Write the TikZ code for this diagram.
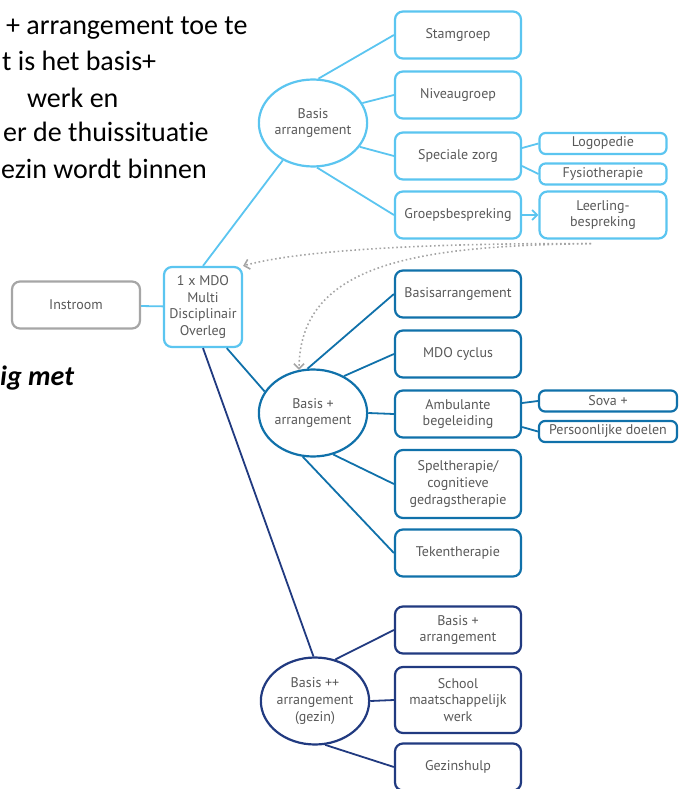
\documentclass[tikz,border=0pt]{standalone}
\usepackage{fontspec}
\setmainfont{PT Sans}
\newfontfamily\introfont[Ligatures=NoCommon]{Carlito}
\usetikzlibrary{shapes.geometric,arrows.meta}

\definecolor{lblue}{RGB}{91,197,240}
\definecolor{mblue}{RGB}{16,113,170}
\definecolor{dblue}{RGB}{33,58,128}
\definecolor{boxgray}{RGB}{166,166,166}
\definecolor{txtgray}{RGB}{89,89,89}
\definecolor{dotgray}{RGB}{165,165,165}

\newcommand{\boxfont}{\fontsize{14}{16.6}\selectfont}
\newcommand{\intro}{\introfont\fontsize{28}{34}\selectfont}

\tikzset{
  basebox/.style={rounded corners=8pt, line width=2.2pt, fill=white, align=center,
    text=txtgray, font=\boxfont, inner sep=2pt, minimum width=126pt, minimum height=47pt},
  lbox/.style={basebox, draw=lblue},
  mbox/.style={basebox, draw=mblue},
  dbox/.style={basebox, draw=dblue},
  gbox/.style={basebox, draw=boxgray, minimum width=128pt},
  lsmall/.style={lbox, rounded corners=6pt, minimum width=127pt, minimum height=21pt, inner sep=1pt},
  msmall/.style={mbox, rounded corners=6pt, minimum width=138pt, minimum height=21pt, inner sep=1pt},
  baseell/.style={ellipse, line width=2.2pt, fill=white, align=center, text=txtgray,
    font=\boxfont, inner sep=0pt, minimum width=107pt, minimum height=87pt},
  lell/.style={baseell, draw=lblue},
  mell/.style={baseell, draw=mblue},
  dell/.style={baseell, draw=dblue},
  lline/.style={draw=lblue, line width=1.8pt},
  mline/.style={draw=mblue, line width=1.8pt},
  dline/.style={draw=dblue, line width=1.8pt},
  dotarrow/.style={draw=dotgray, line width=1.6pt, dash pattern=on 1.6pt off 2.6pt,
    -{Straight Barb[length=5pt,width=10pt,line width=1.6pt]}}
}

\begin{document}
\begin{tikzpicture}[x=1pt,y=-1pt]
  \useasboundingbox (0,0) rectangle (683,789);

  % Text at the left
  \node[anchor=base west, inner sep=0pt, font=\intro] (r1) at (6,35) {+ arrangement toe te};
  \node[anchor=base west, inner sep=0pt, font=\intro] (r2) at (2,71) {t is het basis+};
  \node[anchor=base west, inner sep=0pt, font=\intro] (r3) at (27,107) {werk en};
  \node[anchor=base west, inner sep=0pt, font=\intro] (r4) at (3,142) {er de thuissituatie};
  \node[anchor=base west, inner sep=0pt, font=\intro] (r5) at (1,178) {ezin wordt binnen};
  \node[anchor=base west, inner sep=0pt, font=\intro\bfseries\itshape] (r6) at (0,385) {ig met};

  % Start
  \node[gbox] (instroom) at (76,305) {Instroom};
  \node[lbox, minimum width=78pt, minimum height=80pt] (mdo) at (203,307) {1 x MDO\\Multi\\Disciplinair\\Overleg};

  % Basis arrangement
  \node[lell] (ba) at (313,123) {Basis\\arrangement};
  \node[lbox] (stam) at (458,35) {Stamgroep};
  \node[lbox] (niveau) at (458,95) {Niveaugroep};
  \node[lbox] (zorg) at (458,156) {Speciale zorg};
  \node[lbox] (groeps) at (458,215) {Groepsbespreking};
  \node[lsmall] (logo) at (603,143.5) {Logopedie};
  \node[lsmall] (fysio) at (603,174) {Fysiotherapie};
  \node[lbox, minimum width=127pt] (leerling) at (603,215) {Leerling-\\bespreking};

  % Basis + arrangement
  \node[mell] (bp) at (313,413) {Basis +\\arrangement};
  \node[mbox] (basisarr) at (458,294) {Basisarrangement};
  \node[mbox] (cyclus) at (458,354) {MDO cyclus};
  \node[mbox] (amb) at (458,414) {Ambulante\\begeleiding};
  \node[mbox, minimum height=68pt] (spel) at (458,484) {Speltherapie/\\cognitieve\\gedragstherapie};
  \node[mbox] (teken) at (458,553) {Tekentherapie};
  \node[msmall] (sova) at (608,401) {Sova +};
  \node[msmall] (doelen) at (608,431.5) {Persoonlijke doelen};

  % Basis ++ arrangement
  \node[dell] (bpp) at (315,701) {Basis ++\\arrangement\\(gezin)};
  \node[dbox] (bparr) at (458,630) {Basis +\\arrangement};
  \node[dbox, minimum height=66pt] (school) at (458,700) {School\\maatschappelijk\\werk};
  \node[dbox] (gezin) at (458,767) {Gezinshulp};

  % Connectors
  \draw[lline] (instroom) -- (mdo);
  \draw[lline] (mdo.north) -- (ba.231);
  \draw[mline] (mdo.-60) -- (bp.156);
  \draw[dline] (mdo.south) -- (bpp.92);

  \draw[lline] (ba.83) -- (stam.west);
  \draw[lline] (ba.22) -- (niveau.west);
  \draw[lline] (ba.-27) -- (zorg.west);
  \draw[lline] (ba.-85) -- (groeps.west);
  \draw[lline] ([yshift=8pt]zorg.east) -- (logo.west);
  \draw[lline] ([yshift=-10pt]zorg.east) -- (fysio.west);
  \draw[lline, -{Straight Barb[length=5pt,width=10pt,line width=1.8pt]}] (groeps.east) -- (leerling.west);

  \draw[mline] (bp.97) -- (basisarr.west);
  \draw[mline] (bp.50) -- (cyclus.west);
  \draw[mline] (bp.east) -- (amb.west);
  \draw[mline] (bp.-64) -- (spel.west);
  \draw[mline] (bp.-103) -- (teken.west);
  \draw[mline] ([yshift=11pt]amb.east) -- (sova.west);
  \draw[mline] ([yshift=-13pt]amb.east) -- (doelen.west);

  \draw[dline] (bpp.64) -- (bparr.west);
  \draw[dline] (bpp.east) -- (school.west);
  \draw[dline] (bpp.-77) -- (gezin.west);

  % Dotted arrows back
  \coordinate (dotstart) at ([xshift=-12pt,yshift=-4pt]leerling.south);
  \draw[dotarrow] (dotstart) .. controls (430,243) and (300,250) .. (mdo.north east);
  \draw[dotarrow] (dotstart) .. controls (420,246) and (300,262) .. (bp.108);
\end{tikzpicture}
\end{document}
